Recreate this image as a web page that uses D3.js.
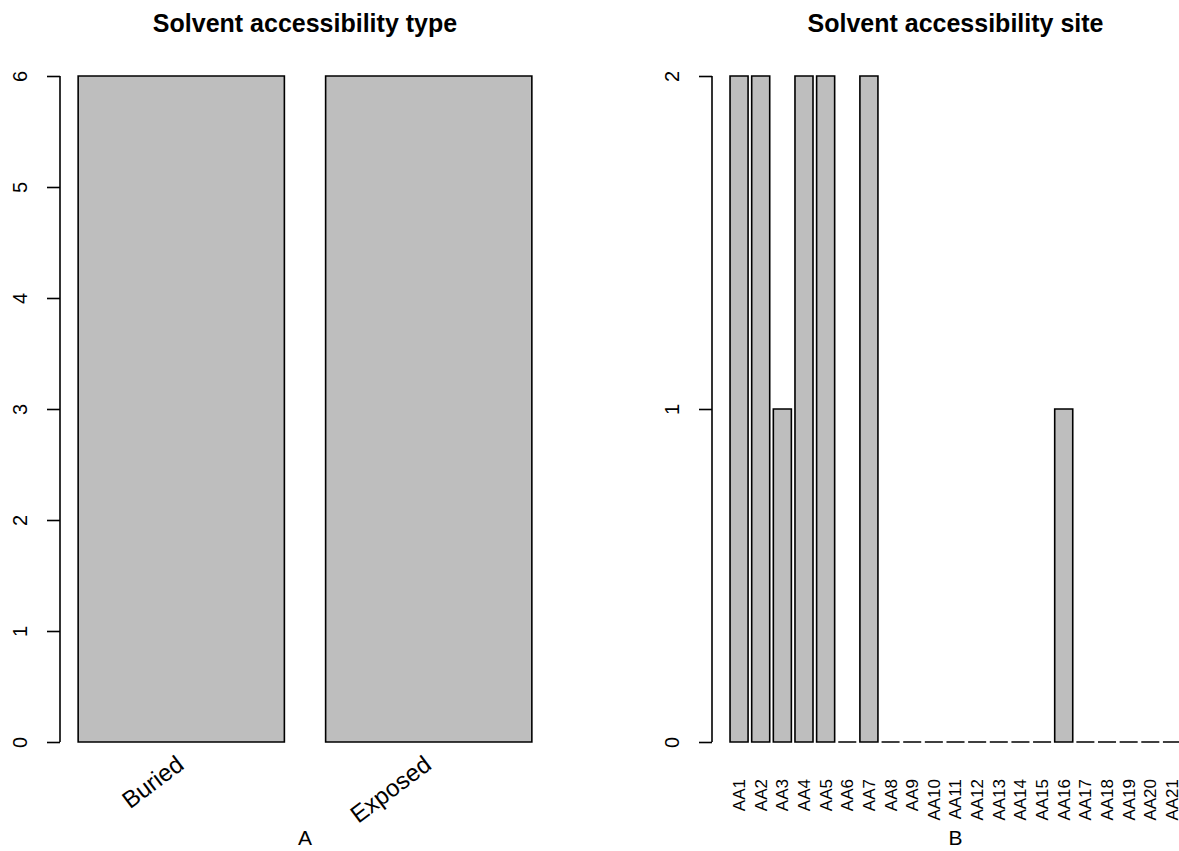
<!DOCTYPE html>
<html>
<head>
<meta charset="utf-8">
<script src="https://cdn.jsdelivr.net/npm/d3@7"></script>
<style>
  body { margin: 0; background: #fff; }
  svg { display: block; font-family: "Liberation Sans", Arial, sans-serif; }
</style>
</head>
<body>
<svg width="1179" height="851"></svg>
<script>
// panel A: solvent accessibility type
const typeNames = ["Buried", "Exposed"];
const typeCounts = [6, 6];
const typeTicks = [0, 1, 2, 3, 4, 5, 6];

// panel B: solvent accessibility site
const siteNames = ["AA1", "AA2", "AA3", "AA4", "AA5", "AA6", "AA7", "AA8", "AA9", "AA10",
  "AA11", "AA12", "AA13", "AA14", "AA15", "AA16", "AA17", "AA18", "AA19", "AA20", "AA21"];
const siteCounts = [2, 2, 1, 2, 2, 0, 2, 0, 0, 0, 0, 0, 0, 0, 0, 1, 0, 0, 0, 0, 0];
const siteTicks = [0, 1, 2];

const svg = d3.select("svg");
const barFill = "#bebebe";

function barPath(x0, w, y0, y1) {
  // path instead of rect so zero-height bars still show their outline
  return `M${x0},${y0}H${x0 + w}V${y1}H${x0}Z`;
}

function panel(opts) {
  const g = svg.append("g");
  const x = d3.scaleBand()
    .domain(opts.names)
    .range(opts.xRange)
    .paddingInner(0.2 / 1.2)
    .paddingOuter(opts.outer);
  const ymax = d3.max(opts.ticks);
  const y = d3.scaleLinear().domain([0, ymax]).range([742, 76]);

  g.selectAll("path.bar")
    .data(opts.values)
    .join("path")
    .attr("class", "bar")
    .attr("d", (d, i) => barPath(x(opts.names[i]), x.bandwidth(), y(0), y(d)))
    .attr("fill", barFill)
    .attr("stroke", "#000")
    .attr("stroke-width", 1.6);

  // y axis, R style
  const ax = opts.xRange[0];
  const yAxis = g.append("g")
    .attr("transform", `translate(${ax},0)`)
    .call(d3.axisLeft(y).tickValues(opts.ticks).tickSize(13).tickFormat(d3.format("d")));
  yAxis.select(".domain").attr("d", `M0,${y(0)}V${y(ymax)}`).attr("stroke-width", 1.6);
  yAxis.selectAll(".tick line").attr("stroke-width", 1.6);
  yAxis.selectAll(".tick text")
    .attr("font-size", 20)
    .attr("fill", "#000")
    .attr("text-anchor", "middle")
    .attr("x", null).attr("dy", null)
    .attr("transform", "translate(-33,0) rotate(-90)");

  g.append("text")
    .attr("x", (opts.xRange[0] + opts.xRange[1]) / 2)
    .attr("y", 32)
    .attr("text-anchor", "middle")
    .attr("font-size", 25)
    .attr("font-weight", "bold")
    .text(opts.title);

  g.append("text")
    .attr("x", (opts.xRange[0] + opts.xRange[1]) / 2)
    .attr("y", 845)
    .attr("text-anchor", "middle")
    .attr("font-size", 21)
    .text(opts.xlab);

  return {g, x};
}

const a = panel({
  names: typeNames, values: typeCounts, ticks: typeTicks,
  xRange: [60, 550], outer: 0.088 / 1.2,
  title: "Solvent accessibility type", xlab: "A"
});
a.g.selectAll("text.name")
  .data(typeNames)
  .join("text")
  .attr("class", "name")
  .attr("font-size", 24)
  .attr("text-anchor", "end")
  .attr("dy", "0.35em")
  .attr("transform", d => `translate(${a.x(d) + a.x.bandwidth() / 2 - 1},761) rotate(-37)`)
  .text(d => d);

const b = panel({
  names: siteNames, values: siteCounts, ticks: siteTicks,
  xRange: [712, 1199], outer: 1.0 / 1.2,
  title: "Solvent accessibility site", xlab: "B"
});
b.g.selectAll("text.name")
  .data(siteNames)
  .join("text")
  .attr("class", "name")
  .attr("font-size", 17)
  .attr("text-anchor", "end")
  .attr("dy", "0.35em")
  .attr("transform", d => `translate(${b.x(d) + b.x.bandwidth() / 2},779) rotate(-90)`)
  .text(d => d);
</script>
</body>
</html>
